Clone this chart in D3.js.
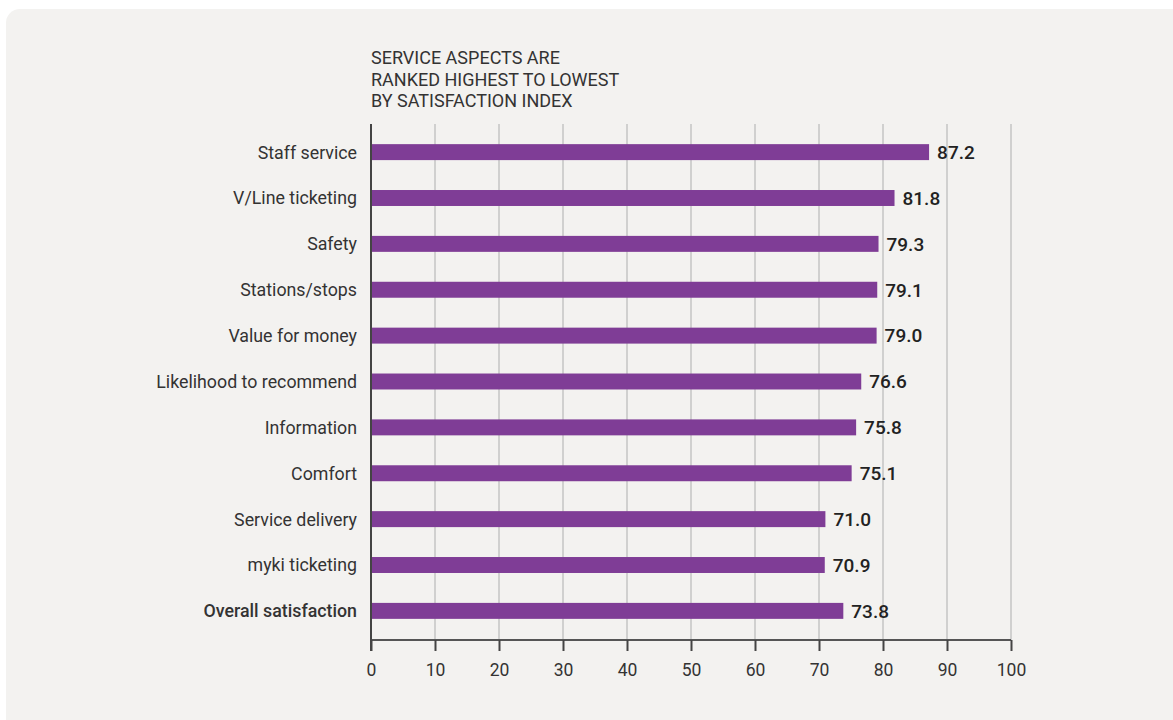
<!DOCTYPE html>
<html><head><meta charset="utf-8">
<script src="https://cdn.jsdelivr.net/npm/d3@7"></script>
<style>body{margin:0;background:#fff;}svg{display:block;font-family:Roboto,"Open Sans",sans-serif;}</style>
</head><body>
<svg id="c" width="1173" height="720"></svg>
<script>
const categories = ["Staff service","V/Line ticketing","Safety","Stations/stops","Value for money","Likelihood to recommend","Information","Comfort","Service delivery","myki ticketing","Overall satisfaction"];
const values = [87.2,81.8,79.3,79.1,79.0,76.6,75.8,75.1,71.0,70.9,73.8];
const xTicks = [0,10,20,30,40,50,60,70,80,90,100];
const titleLines = ["SERVICE ASPECTS ARE","RANKED HIGHEST TO LOWEST","BY SATISFACTION INDEX"];

(function(){
const svg = d3.select("#c");
svg.append("rect").attr("x",6).attr("y",9).attr("width",1180).attr("height",730).attr("rx",14).attr("fill","#f3f2f0");

const mLeft=371, mRight=1011, mTop=124, mBottom=640;
const x = d3.scaleLinear().domain([0,100]).range([mLeft,mRight]);
const y = d3.scaleBand().domain(categories).range([129,634]).paddingInner(0.652).paddingOuter(0.33);

svg.append("g").selectAll("line").data(xTicks.slice(1)).join("line")
  .attr("x1",d=>x(d)).attr("x2",d=>x(d)).attr("y1",mTop).attr("y2",mBottom)
  .attr("stroke","#c4c4c4").attr("stroke-width",1.5);

const xa = svg.append("g").attr("transform",`translate(0,${mBottom})`)
  .call(d3.axisBottom(x).tickValues(xTicks).tickSize(11).tickPadding(0).tickFormat(d3.format("d")));
xa.select(".domain").attr("stroke","#555").attr("stroke-width",2).attr("d",`M${mLeft},0H${mRight}`);
xa.selectAll(".tick line").attr("stroke","#444").attr("stroke-width",2);
xa.selectAll(".tick text").attr("fill","#333").attr("font-size",17.5).attr("font-family","Roboto,sans-serif")
  .attr("y",36).attr("dy",0);

svg.append("line").attr("x1",mLeft).attr("x2",mLeft).attr("y1",mTop).attr("y2",mBottom+11)
  .attr("stroke","#444").attr("stroke-width",2);

svg.append("g").selectAll("rect").data(values).join("rect")
  .attr("x",x(0)+1).attr("y",(d,i)=>y(categories[i]))
  .attr("width",d=>x(d)-x(0)-1).attr("height",y.bandwidth())
  .attr("fill","#7f3d96");

svg.append("g").selectAll("text").data(values).join("text")
  .attr("x",d=>x(d)+8).attr("y",(d,i)=>y(categories[i])+y.bandwidth()/2)
  .attr("dy","0.36em").attr("font-size",19).attr("font-weight",500).attr("fill","#222")
  .text(d=>d.toFixed(1));

svg.append("g").selectAll("text").data(categories).join("text")
  .attr("x",357).attr("y",d=>y(d)+y.bandwidth()/2).attr("dy","0.36em")
  .attr("text-anchor","end").attr("font-size",17.8).attr("fill","#333")
  .attr("font-weight",(d,i)=>i===categories.length-1?500:400)
  .text(d=>d);

svg.append("g").selectAll("text").data(titleLines).join("text")
  .attr("x",371).attr("y",(d,i)=>64+i*21.5).attr("font-size",18).attr("fill","#333")
  .text(d=>d);
})();
</script>
</body></html>
